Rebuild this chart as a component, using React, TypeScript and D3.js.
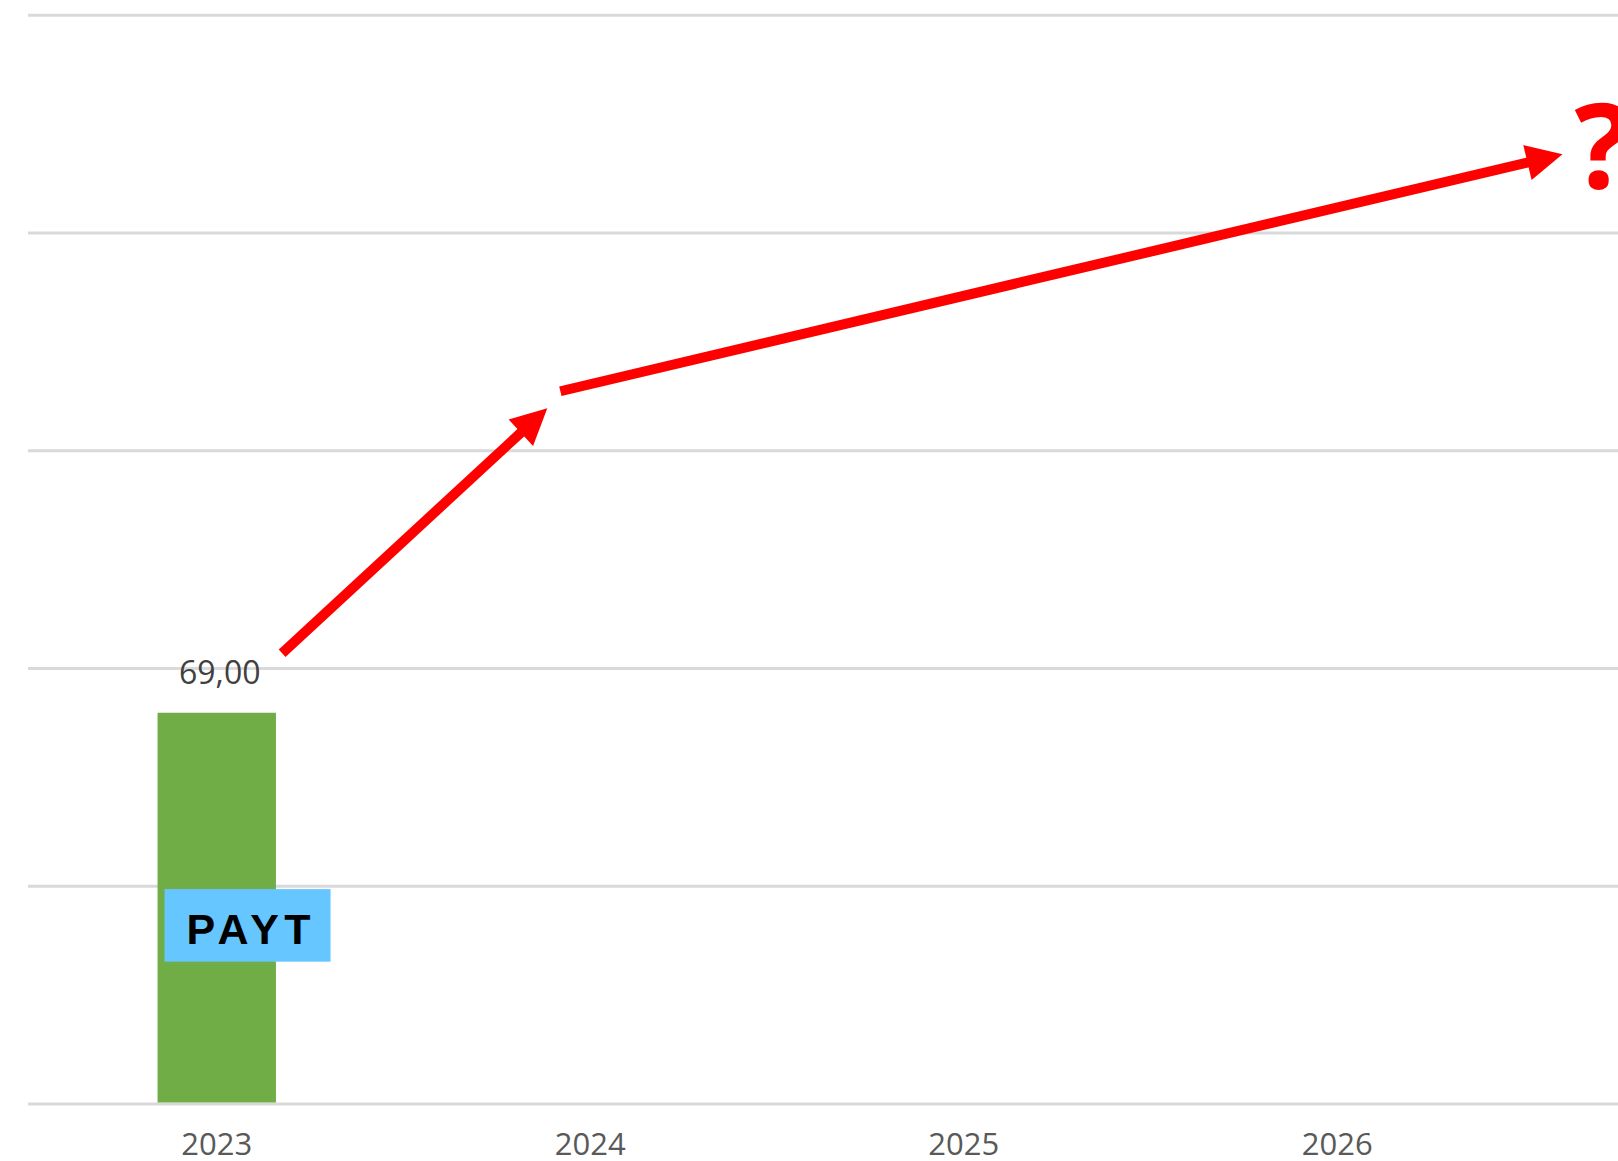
import React from "react";
import * as d3 from "d3";

// ---- data ----
const categories = ["2023", "2024", "2025", "2026", "2027"];
const values: (number | null)[] = [69, null, null, null, null];
const gridValues = [0, 38.4, 76.8, 115.2, 153.6, 192];
const yMax = 192;

// annotation arrows, in [category index, value] units
const arrowFromIdx = [0.175, 0.92];
const arrowFromVal = [79.5, 125.7];
const arrowToIdx = [0.885, 3.603];
const arrowToVal = [122.7, 167.5];

const questionIdx = 3.635;
const questionVal = 161.6;

const tagText = "PAYT";
const tagTopVal = 37.9;
const tagBottomVal = 25.1;

const W = 1618;
const H = 1161;
const gridLeft = 28;
const plotLeft = 30;
const plotRight = 1897.5;
const plotTop = 15.3;
const plotBottom = 1104;

const comma = d3.formatLocale({ decimal: ",", thousands: " ", grouping: [3], currency: ["", ""] });
const fmt = comma.format(".2f");

export default function App() {
  const x = d3.scaleBand<string>().domain(categories).range([plotLeft, plotRight]).paddingInner(0.683).paddingOuter(0.683 / 2);
  const xLin = d3.scaleLinear().domain([-0.5, categories.length - 0.5]).range([plotLeft, plotRight]);
  const y = d3.scaleLinear().domain([0, yMax]).range([plotBottom, plotTop]);
  const bw = x.bandwidth();

  const arrows = arrowFromIdx.map((_, i) => {
    const x1 = xLin(arrowFromIdx[i]);
    const y1 = y(arrowFromVal[i]);
    const x2 = xLin(arrowToIdx[i]);
    const y2 = y(arrowToVal[i]);
    const len = Math.hypot(x2 - x1, y2 - y1);
    const ux = (x2 - x1) / len;
    const uy = (y2 - y1) / len;
    const headLen = 36;
    const headHalf = 18;
    const bx = x2 - ux * headLen;
    const by = y2 - uy * headLen;
    const lx = x2 - ux * (headLen - 4);
    const ly = y2 - uy * (headLen - 4);
    const px = -uy;
    const py = ux;
    const head = [
      [x2, y2],
      [bx + px * headHalf, by + py * headHalf],
      [bx - px * headHalf, by - py * headHalf],
    ];
    return { x1, y1, lx, ly, head };
  });

  const bx0 = x(categories[0])!;

  return (
    <svg
      width={W}
      height={H}
      style={{ position: "absolute", left: 0, top: 0, background: "#fff" }}
    >
      <rect x={0} y={0} width={W} height={H} fill="#fff" />
      {gridValues.map((g, i) => (
        <line key={i} x1={gridLeft} x2={W} y1={y(g)} y2={y(g)} stroke="#D9D9D9" strokeWidth={3} />
      ))}
      {categories.map((c, i) =>
        values[i] != null ? (
          <g key={c}>
            <rect x={x(c)!} y={y(values[i]!)} width={bw} height={y(0) - y(values[i]!) - 1.5} fill="#70AD47" />
            <text
              x={x(c)! + bw / 2 + 3}
              y={y(values[i]!) - 29}
              textAnchor="middle"
              fontFamily="'Open Sans', sans-serif"
              fontSize={32}
              fill="#404040"
            >
              {fmt(values[i]!)}
            </text>
          </g>
        ) : null
      )}
      {categories.map((c) => (
        <text
          key={c}
          x={x(c)! + bw / 2}
          y={1155}
          textAnchor="middle"
          fontFamily="'Open Sans', sans-serif"
          fontSize={31}
          fill="#595959"
        >
          {c}
        </text>
      ))}
      {/* tag */}
      <rect x={bx0 + 7} y={y(tagTopVal)} width={166} height={y(tagBottomVal) - y(tagTopVal)} fill="#66C6FF" />
      <text
        x={bx0 + 29}
        y={944}
        textAnchor="start"
        fontFamily="'Liberation Sans', Arial, sans-serif"
        fontWeight="bold"
        fontSize={43}
        letterSpacing={5.5}
        fill="#000"
      >
        {tagText}
      </text>
      {/* arrows */}
      {arrows.map((a, i) => (
        <g key={i}>
          <line x1={a.x1} y1={a.y1} x2={a.lx} y2={a.ly} stroke="#FF0000" strokeWidth={10} />
          <polygon points={a.head.map((p) => p.join(",")).join(" ")} fill="#FF0000" />
        </g>
      ))}
      <text
        x={xLin(questionIdx)}
        y={y(questionVal)}
        fontFamily="'Open Sans', sans-serif"
        fontWeight="bold"
        fontSize={118}
        fill="#FF0000"
      >
        ?
      </text>
    </svg>
  );
}
